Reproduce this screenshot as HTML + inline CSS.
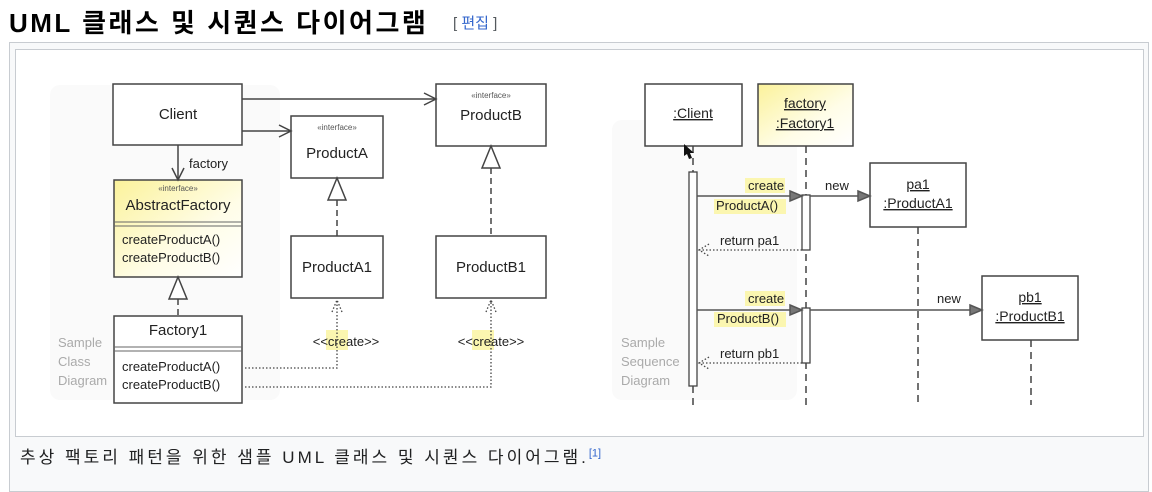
<!DOCTYPE html>
<html><head><meta charset="utf-8"><style>
body{margin:0;width:1152px;height:479px;overflow:hidden;background:#fff;font-family:"Liberation Sans","Noto Sans CJK KR",sans-serif;}
.h{position:absolute;left:9px;top:3px;font-size:26px;font-weight:bold;color:#000;letter-spacing:2.5px;white-space:nowrap}
.e{position:absolute;left:453px;top:12px;font-size:15px;color:#54595d}
.e span{color:#3366cc}
.outer{position:absolute;left:9px;top:42px;width:1140px;height:450px;background:#f8f9fa;border:1px solid #c8ccd1;box-sizing:border-box}
.inner{position:absolute;left:15px;top:49px;width:1129px;height:388px;background:#fff;border:1px solid #c8ccd1;box-sizing:border-box}
.cap{position:absolute;left:20px;top:443px;font-size:17px;letter-spacing:3px;color:#202122;white-space:nowrap}
.cap sup{color:#3366cc;font-size:11px;letter-spacing:0}
svg{position:absolute;left:0;top:0}
</style></head><body>
<div class="h">UML 클래스 및 시퀀스 다이어그램</div>
<div class="e">[ <span>편집</span> ]</div>
<div class="outer"></div>
<div class="inner"></div>
<div class="cap">추상 팩토리 패턴을 위한 샘플 UML 클래스 및 시퀀스 다이어그램.<sup>[1]</sup></div>
<svg width="1152" height="479" font-family="Liberation Sans, sans-serif" font-size="14" fill="#222">
<defs>
<linearGradient id="y" x1="0" y1="0" x2="1" y2="1"><stop offset="0" stop-color="#fbf29a"/><stop offset="0.6" stop-color="#fffde8"/><stop offset="1" stop-color="#fff"/></linearGradient>
</defs>
<rect x="50" y="85" width="230" height="315" rx="10" fill="#fafafa"/>
<rect x="612" y="120" width="185" height="280" rx="10" fill="#fafafa"/>
<g stroke="#444" stroke-width="1.5" fill="#fff">
<rect x="113" y="84" width="129" height="61"/>
<rect x="291" y="116" width="92" height="62"/>
<rect x="436" y="84" width="110" height="62"/>
<rect x="114" y="180" width="128" height="97" fill="url(#y)"/>
<rect x="114" y="316" width="128" height="87"/>
<rect x="291" y="236" width="92" height="62"/>
<rect x="436" y="236" width="110" height="62"/>
</g>
<g stroke="#666" stroke-width="1">
<line x1="114" y1="222" x2="242" y2="222"/><line x1="114" y1="226" x2="242" y2="226"/>
<line x1="114" y1="347" x2="242" y2="347"/><line x1="114" y1="351" x2="242" y2="351"/>
</g>
<g text-anchor="middle" font-size="15">
<text x="178" y="119">Client</text>
<text x="337" y="158">ProductA</text>
<text x="491" y="120">ProductB</text>
<text x="178" y="210">AbstractFactory</text>
<text x="178" y="335">Factory1</text>
<text x="337" y="272">ProductA1</text>
<text x="491" y="272">ProductB1</text>
</g>
<g text-anchor="middle" font-size="8" fill="#555">
<text x="337" y="130">«interface»</text><text x="491" y="98">«interface»</text><text x="178" y="191">«interface»</text>
</g>
<g font-size="13">
<text x="122" y="244">createProductA()</text><text x="122" y="262">createProductB()</text>
<text x="122" y="371">createProductA()</text><text x="122" y="389">createProductB()</text>
<text x="189" y="168">factory</text>
</g>
<g fill="#aaa" font-size="13"><text x="58" y="347">Sample</text><text x="58" y="366">Class</text><text x="58" y="385">Diagram</text>
<text x="621" y="347">Sample</text><text x="621" y="366">Sequence</text><text x="621" y="385">Diagram</text></g>
<g stroke="#444" stroke-width="1.5" fill="none">
<line x1="242" y1="99" x2="436" y2="99"/><polyline points="424,93 436,99 424,105"/>
<line x1="242" y1="131" x2="291" y2="131"/><polyline points="279,125 291,131 279,137"/>
<line x1="178" y1="145" x2="178" y2="180"/><polyline points="172,168 178,180 184,168"/>
<polygon points="337,178 328,200 346,200" fill="#fff"/><line x1="337" y1="200" x2="337" y2="236" stroke-dasharray="6,4"/>
<polygon points="491,146 482,168 500,168" fill="#fff"/><line x1="491" y1="168" x2="491" y2="236" stroke-dasharray="6,4"/>
<polygon points="178,277 169,299 187,299" fill="#fff"/><line x1="178" y1="299" x2="178" y2="316" stroke-dasharray="6,4"/>
</g>
<rect x="326" y="330" width="22" height="20" fill="#fbf6b0"/><rect x="472" y="330" width="22" height="20" fill="#fbf6b0"/>
<g font-size="13" text-anchor="middle"><text x="346" y="346">&lt;&lt;create&gt;&gt;</text><text x="491" y="346">&lt;&lt;create&gt;&gt;</text></g>
<g stroke="#444" stroke-width="1.3" fill="none" stroke-dasharray="1.5,2">
<polyline points="245,368 337,368 337,300"/><polyline points="332,312 337,300 342,312"/>
<polyline points="245,387 491,387 491,300"/><polyline points="486,312 491,300 496,312"/>
</g>
<g stroke="#444" stroke-width="1.5">
<rect x="645" y="84" width="97" height="62" fill="#fff"/>
<rect x="758" y="84" width="95" height="62" fill="url(#y)"/>
<rect x="870" y="163" width="96" height="64" fill="#fff"/>
<rect x="982" y="276" width="96" height="64" fill="#fff"/>
</g>
<g stroke="#444" stroke-width="1.5" stroke-dasharray="7,5">
<line x1="693" y1="146" x2="693" y2="405"/><line x1="806" y1="146" x2="806" y2="405"/>
<line x1="918" y1="227" x2="918" y2="405"/><line x1="1031" y1="340" x2="1031" y2="405"/>
</g>
<g stroke="#444" stroke-width="1.3" fill="#fff">
<rect x="689" y="172" width="8" height="214"/><rect x="802" y="195" width="8" height="55"/><rect x="802" y="308" width="8" height="55"/>
</g>
<g stroke="#555" stroke-width="1.5" fill="#777">
<line x1="697" y1="196" x2="790" y2="196"/><polygon points="790,191 802,196 790,201"/>
<line x1="810" y1="196" x2="858" y2="196"/><polygon points="858,191 870,196 858,201"/>
<line x1="697" y1="310" x2="790" y2="310"/><polygon points="790,305 802,310 790,315"/>
<line x1="810" y1="310" x2="970" y2="310"/><polygon points="970,305 982,310 970,315"/>
</g>
<g stroke="#444" stroke-width="1.3" fill="none" stroke-dasharray="1.5,2">
<line x1="699" y1="250" x2="802" y2="250"/><polyline points="709,244 699,250 709,256"/>
<line x1="699" y1="363" x2="802" y2="363"/><polyline points="709,357 699,363 709,369"/>
</g>
<g fill="#fbf6b0"><rect x="745" y="178" width="40" height="15"/><rect x="714" y="199" width="72" height="15"/>
<rect x="745" y="291" width="40" height="15"/><rect x="714" y="312" width="72" height="15"/></g>
<g font-size="13">
<text x="748" y="190">create</text><text x="716" y="210">ProductA()</text>
<text x="748" y="303">create</text><text x="717" y="323">ProductB()</text>
<text x="720" y="245">return pa1</text><text x="720" y="358">return pb1</text>
<text x="825" y="190">new</text><text x="937" y="303">new</text>
</g>
<g font-size="14" text-anchor="middle" text-decoration="underline">
<text x="693" y="118">:Client</text>
<text x="805" y="108">factory</text><text x="805" y="128">:Factory1</text>
<text x="918" y="189">pa1</text><text x="918" y="208">:ProductA1</text>
<text x="1030" y="302">pb1</text><text x="1030" y="321">:ProductB1</text>
</g>
<path d="M684 144 l0 12 l3 -2 l2 5 l3 -1 l-2 -5 l4 0 z" fill="#111"/>
</svg>
</body></html>
